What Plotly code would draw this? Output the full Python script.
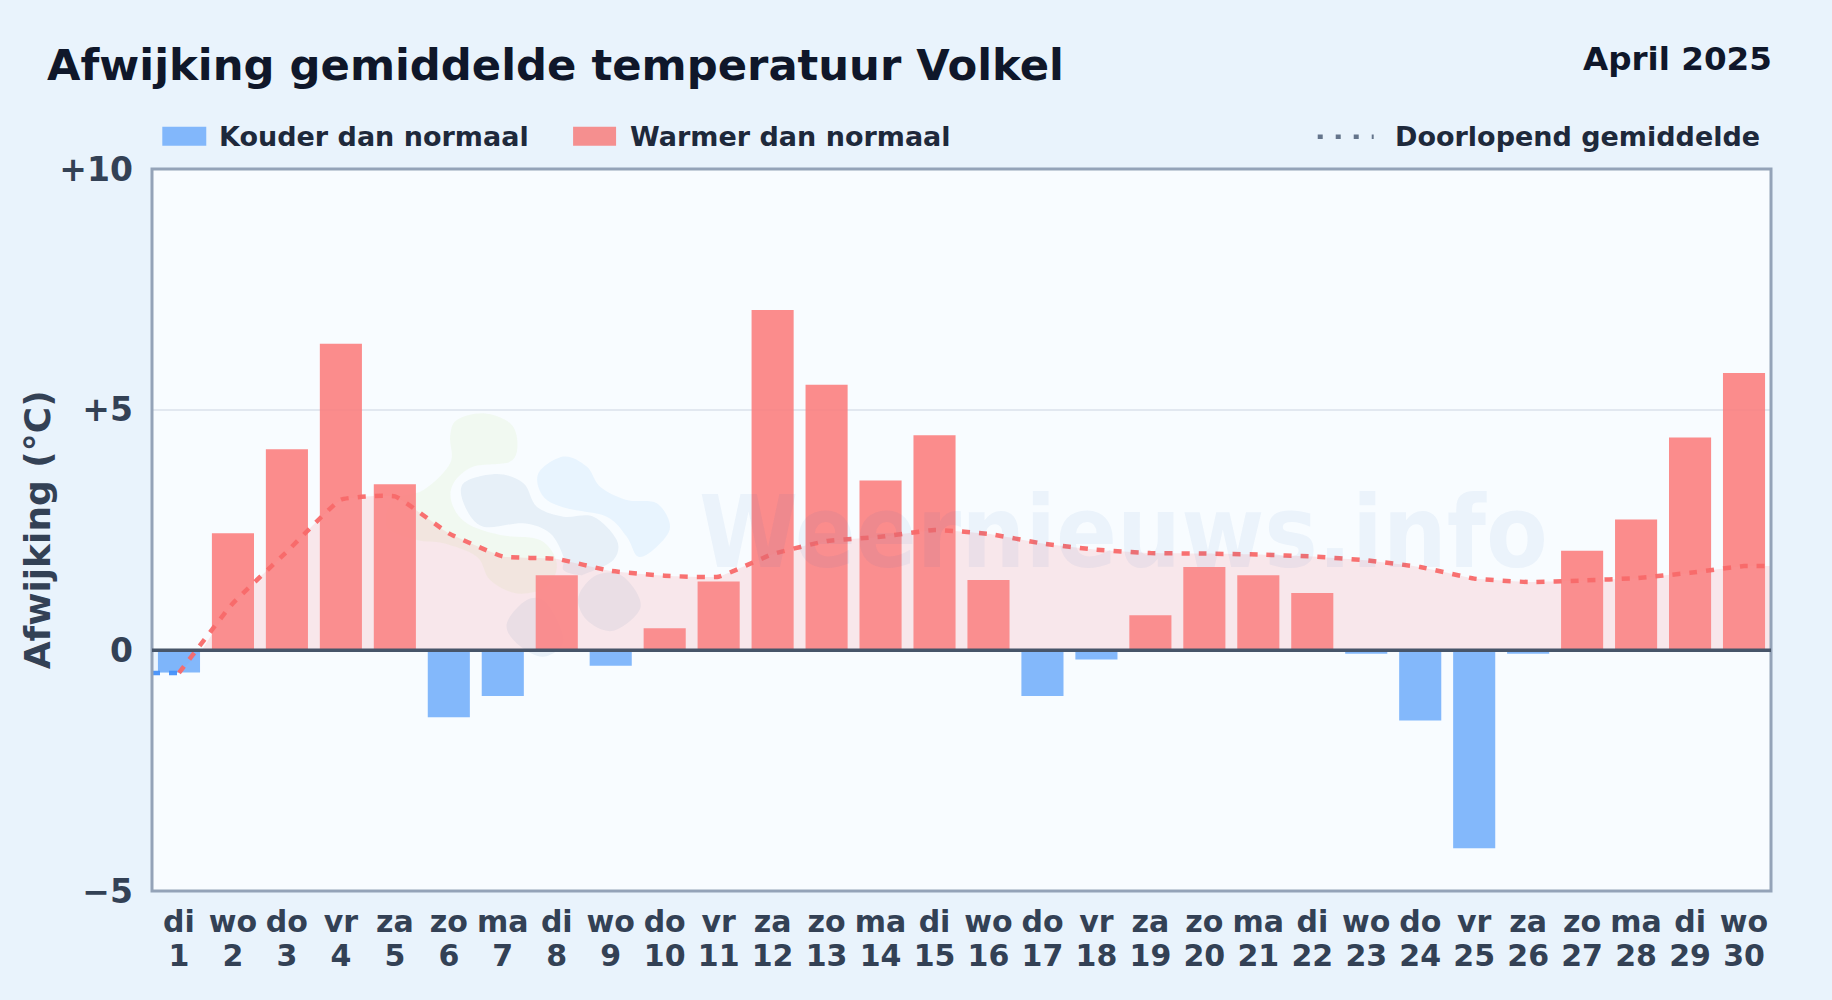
import plotly.graph_objects as go

W, H = 1832, 1000
L, R, T, B = 151.7, 1771.5, 169.3, 890.7

days = list(range(1, 31))
weekdays = ["di","wo","do","vr","za","zo","ma","di","wo","do","vr","za","zo","ma","di",
            "wo","do","vr","za","zo","ma","di","wo","do","vr","za","zo","ma","di","wo"]
deviation = [-0.46, 2.43, 4.18, 6.37, 3.45, -1.39, -0.95, 1.56, -0.32, 0.46,
             1.43, 7.07, 5.52, 3.53, 4.47, 1.46, -0.95, -0.19, 0.73, 1.73,
             1.56, 1.19, -0.07, -1.46, -4.11, -0.07, 2.07, 2.72, 4.42, 5.76]
running_mean = [-0.47, 0.98, 2.05, 3.13, 3.2, 2.43, 1.95, 1.9, 1.65, 1.55,
                1.53, 2.0, 2.27, 2.36, 2.5, 2.42, 2.22, 2.09, 2.02, 2.01,
                1.99, 1.95, 1.87, 1.73, 1.49, 1.42, 1.45, 1.5, 1.61, 1.75]
y_ticks = [-5, 0, 5, 10]
y_labels = ["−5", "0", "+5", "+10"]

FONT = "DejaVu Sans"
INK = "#0f172a"
TEXT = "#1e293b"
AXIS = "#334155"
WARM = "rgba(251,128,128,0.9)"
COLD = "rgba(118,176,251,0.9)"
LINE_WARM = "rgba(248,105,105,0.95)"
LINE_COLD = "rgba(70,145,250,0.95)"
SMOOTH = 0.35

cold = [v if v < 0 else None for v in deviation]
warm = [v if v >= 0 else None for v in deviation]

fig = go.Figure()

fig.add_trace(go.Scatter(x=[1.42] + days[1:] + [30.5], y=[0] + running_mean[1:] + [running_mean[-1]],
                         mode="lines", line=dict(width=0, shape="spline", smoothing=SMOOTH),
                         fill="tozeroy", fillcolor="rgba(250,150,155,0.2)", hoverinfo="skip", showlegend=False))
fig.add_trace(go.Scatter(x=[0.5, 1, 1.42], y=[running_mean[0], running_mean[0], 0],
                         mode="lines", line=dict(width=0),
                         fill="tozeroy", fillcolor="rgba(59,130,246,0.06)", hoverinfo="skip", showlegend=False))

fig.add_trace(go.Bar(x=days, y=cold, name="Kouder dan normaal", marker=dict(color=COLD, line=dict(width=0))))
fig.add_trace(go.Bar(x=days, y=warm, name="Warmer dan normaal", marker=dict(color=WARM, line=dict(width=0))))

fig.add_trace(go.Scatter(x=[0.5, 1], y=[running_mean[0], running_mean[0]], mode="lines", showlegend=False,
                         line=dict(color=LINE_COLD, width=4.5, dash="8px,9px")))
fig.add_trace(go.Scatter(x=days + [30.5], y=running_mean + [running_mean[-1]], mode="lines",
                         name="Doorlopend gemiddelde",
                         line=dict(color=LINE_WARM, width=4.5, dash="8px,9px", shape="spline", smoothing=SMOOTH)))
# invisible carrier so the second tick row (day numbers) is drawn
fig.add_trace(go.Scatter(x=days, y=[None] * 30, xaxis="x2", showlegend=False, hoverinfo="skip"))


def fx(x):
    return (x - L) / (R - L)


def fy(y):
    return 1 - (y - T) / (B - T)


def blob(points, color):
    """Smooth closed outline for the faint logo behind the plot; points are crop pixels of the page."""
    pts = [(400 + a / 3, 400 + b / 3) for a, b in points]
    n = len(pts)
    d = f"M {fx(pts[0][0]):.5f},{fy(pts[0][1]):.5f}"
    for i in range(n):
        p0, p1, p2, p3 = pts[i - 1], pts[i], pts[(i + 1) % n], pts[(i + 2) % n]
        c1 = (p1[0] + (p2[0] - p0[0]) / 6, p1[1] + (p2[1] - p0[1]) / 6)
        c2 = (p2[0] - (p3[0] - p1[0]) / 6, p2[1] - (p3[1] - p1[1]) / 6)
        d += (f" C {fx(c1[0]):.5f},{fy(c1[1]):.5f} {fx(c2[0]):.5f},{fy(c2[1]):.5f}"
              f" {fx(p2[0]):.5f},{fy(p2[1]):.5f}")
    return dict(type="path", path=d + " Z", xref="paper", yref="paper", layer="below",
                fillcolor=color, line=dict(width=0))


logo = [
    ([(250, 40), (330, 70), (352, 130), (330, 185), (220, 200), (160, 250), (155, 310), (200, 370), (300, 405),
      (420, 420), (470, 490), (440, 560), (350, 580), (270, 540), (230, 470), (130, 430), (50, 420), (-40, 380),
      (-20, 300), (70, 270), (150, 190), (150, 110), (170, 60)], "rgba(190,225,120,0.10)"),
    ([(190, 250), (290, 222), (370, 250), (410, 320), (490, 350), (580, 350), (650, 420), (640, 480), (560, 520),
      (535, 525), (490, 510), (490, 470), (450, 400), (370, 370), (250, 380), (195, 320)], "rgba(30,90,160,0.075)"),
    ([(415, 220), (490, 170), (560, 200), (600, 260), (680, 300), (770, 310), (810, 380), (770, 440), (715, 470),
      (680, 410), (620, 350), (500, 325), (430, 290)], "rgba(80,170,240,0.09)"),
    ([(320, 670), (380, 600), (440, 610), (490, 720), (430, 770), (350, 730)], "rgba(30,90,160,0.075)"),
    ([(535, 590), (590, 525), (670, 530), (722, 620), (640, 692), (560, 660)], "rgba(30,90,160,0.075)"),
]

shapes = [blob(p, c) for p, c in logo]
shapes.append(dict(type="rect", xref="paper", yref="paper", x0=0, x1=1, y0=0, y1=1, layer="above",
                   line=dict(color="#94a3b8", width=3), fillcolor="rgba(0,0,0,0)"))
shapes.append(dict(type="line", xref="paper", yref="y", x0=0, x1=1, y0=0, y1=0, layer="above",
                   line=dict(color="#475569", width=3.5)))

for x0, x1, c in [(162, 206, "rgb(130,183,251)"), (573, 616, "rgb(245,143,143)")]:
    shapes.append(dict(type="rect", xref="paper", yref="paper", x0=fx(x0), x1=fx(x1), y0=fy(146), y1=fy(127),
                       fillcolor=c, line=dict(width=0)))
shapes.append(dict(type="line", xref="paper", yref="paper", x0=fx(1318), x1=fx(1374), y0=fy(137), y1=fy(137),
                   line=dict(color="#64748b", width=4.5, dash="5px,13px")))


def note(text, x, y, size, color, xanchor="left", family=FONT, **kw):
    return dict(text=text, xref="paper", yref="paper", x=fx(x), y=fy(y), xanchor=xanchor, yanchor="middle",
                showarrow=False, font=dict(family=family, size=size, color=color), **kw)


annotations = [
    note("<b>Afwijking gemiddelde temperatuur Volkel</b>", 45, 65, 43.3, INK),
    note("<b>April 2025</b>", 1775, 59, 32.6, INK, xanchor="right"),
    note("<b>Kouder dan normaal</b>", 217, 137, 27, TEXT),
    note("<b>Warmer dan normaal</b>", 628, 137, 27, TEXT),
    note("<b>Doorlopend gemiddelde</b>", 1393, 137, 27, TEXT),
    note("<b>Afwijking (°C)</b>", 37, 530, 36, AXIS, xanchor="center", textangle=-90),
    note("<b>Weernieuws.info</b>", 1124, 532, 100, "rgba(30,110,190,0.06)", xanchor="center",
         family="DejaVu Sans Condensed"),
]

tick_axis = dict(range=[0.5, 30.5], tickmode="array", tickvals=days, tickangle=0,
                 tickfont=dict(family=FONT, size=30, color=AXIS), ticks="outside",
                 tickcolor="rgba(0,0,0,0)", showgrid=False, zeroline=False, showline=False)

fig.update_layout(
    width=W, height=H,
    margin=dict(l=L, r=W - R, t=T, b=H - B, pad=0),
    paper_bgcolor="#e9f3fc",
    plot_bgcolor="#f8fcff",
    barmode="overlay",
    bargap=0.22,
    showlegend=False,
    shapes=shapes,
    annotations=annotations,
    font=dict(family=FONT),
    xaxis=dict(ticktext=[f"<b>{w}</b>" for w in weekdays], ticklen=3.5, **tick_axis),
    xaxis2=dict(ticktext=[f"<b>{d}</b>" for d in days], ticklen=37.5, overlaying="x", side="bottom", anchor="y",
                **tick_axis),
    yaxis=dict(range=[-5, 10], tickmode="array", tickvals=y_ticks,
               ticktext=[f"<b>{t}</b>" for t in y_labels],
               tickfont=dict(family=FONT, size=33, color=AXIS), ticks="outside", ticklen=11.5,
               tickcolor="rgba(0,0,0,0)", showgrid=True, gridcolor="#e2e8f0", gridwidth=2, zeroline=False,
               showline=False),
)

fig.write_html("out.html", config=dict(displayModeBar=False), post_script="document.body.style.margin='0';")
